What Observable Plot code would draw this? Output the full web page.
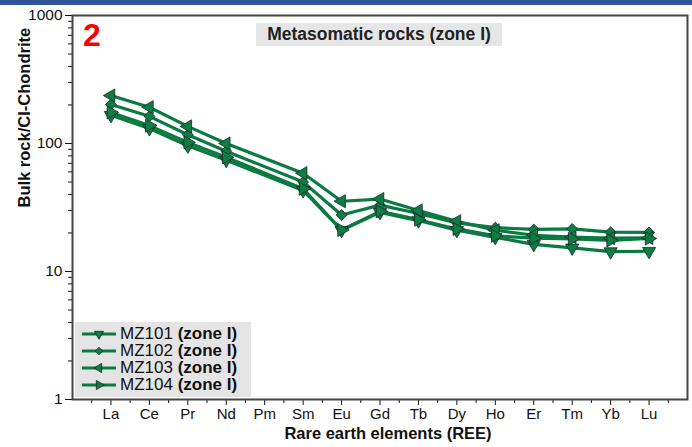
<!DOCTYPE html>
<html>
<head>
<meta charset="utf-8">
<script src="https://cdn.jsdelivr.net/npm/d3@7"></script>
<script src="https://cdn.jsdelivr.net/npm/@observablehq/plot@0.6"></script>
<style>
  html, body { margin: 0; padding: 0; background: #ffffff; }
  #wrap { position: relative; width: 692px; height: 447px; overflow: hidden; font-family: "Liberation Sans", Arial, sans-serif; background: #fff; }
  #topbar { position: absolute; left: 0; top: 0; width: 692px; height: 5px; background: #2f5597; }
  #panel { position: absolute; left: 83px; top: 19px; color: #ff0000; font-weight: bold; font-size: 32px; line-height: 1; }
  #title { position: absolute; left: 256px; top: 23px; width: 246px; height: 23px; background: #e6e6e6; font-weight: bold; font-size: 17.5px; line-height: 23px; text-align: center; color: #222; }
  #legend { position: absolute; left: 75px; top: 322px; width: 176px; height: 75px; background: #e4e4e4; }
  .item { position: absolute; left: 5px; height: 17px; display: flex; align-items: center; font-size: 17px; color: #111; white-space: pre; }
  .item svg { margin-right: 2px; }
  .item b { font-weight: bold; }
</style>
</head>
<body>
<div id="wrap">
  <div id="chart"></div>
  <div id="topbar"></div>
  <div id="panel">2</div>
  <div id="title">Metasomatic rocks (zone I)</div>
  <div id="legend"></div>
</div>
<script>
// Rare earth elements in chondrite-normalised order (Pm has no analysis)
const elements = ["La", "Ce", "Pr", "Nd", "Pm", "Sm", "Eu", "Gd", "Tb", "Dy", "Ho", "Er", "Tm", "Yb", "Lu"];
const samples = ["MZ101", "MZ102", "MZ103", "MZ104"];
const zone = "(zone I)";

// Bulk rock / CI-chondrite ratios per sample
const mz101 = [166, 131, 96, 74, null, 43, 21, 29, 25, 21, 18.5, 16.3, 15.3, 14.3, 14.4];
const mz102 = [202, 163, 117, 87, null, 50, 27.6, 33, 28.4, 24, 22, 21.3, 21.5, 20.3, 20.2];
const mz103 = [237, 192, 136, 100, null, 58.6, 35.4, 36.8, 30, 24.7, 21, 19.2, 18.6, 18.2, 18.3];
const mz104 = [175, 138, 102, 78, null, 44.3, 21.1, 29.5, 25.4, 21.5, 19, 18.2, 18, 17.5, 18.1];

const yMajor = [1, 10, 100, 1000];
const yMinor = [1, 10, 100].flatMap(d => [2, 3, 4, 5, 6, 7, 8, 9].map(k => k * d));

const series = [mz101, mz102, mz103, mz104];
const rows = samples.flatMap((s, j) =>
  series[j].map((v, i) => ({sample: s, el: elements[i], i, v})).filter(d => d.v != null)
);

// Triangle marker rotated to point down / left / right
function triangle(angle) {
  return {
    draw(ctx, size) {
      const y = -Math.sqrt(size / (Math.sqrt(3) * 3));
      const pts = [[0, y * 2], [-Math.sqrt(3) * y, -y], [Math.sqrt(3) * y, -y]];
      const c = Math.cos(angle), s = Math.sin(angle);
      pts.forEach(([px, py], k) => {
        const X = px * c - py * s, Y = px * s + py * c;
        if (k) ctx.lineTo(X, Y); else ctx.moveTo(X, Y);
      });
      ctx.closePath();
    }
  };
}
const symbols = [triangle(Math.PI), d3.symbolDiamond2, triangle(-Math.PI / 2), triangle(Math.PI / 2)];

const green = "#0b7a42";
const markFill = "#0e7c45";
const markStroke = "#1b2b22";

const chart = Plot.plot({
  width: 692,
  height: 447,
  marginTop: 15,
  marginRight: 5,
  marginBottom: 48,
  marginLeft: 72,
  style: {fontFamily: "Liberation Sans, Arial, sans-serif", color: "#111", background: "transparent"},
  x: {domain: [-1, 15], label: null},
  y: {type: "log", domain: [1, 1000], label: null},
  symbol: {domain: samples, range: symbols},
  marks: [
    Plot.axisX({ticks: d3.range(elements.length), tickFormat: i => elements[i], tickSize: 6, tickPadding: 3, fontSize: 15, stroke: "#111"}),
    Plot.axisX({ticks: d3.range(-0.5, 15, 1), tickFormat: () => "", tickSize: 4, stroke: "#111"}),
    Plot.axisY({ticks: yMajor, tickFormat: d => String(d), tickSize: 7, tickPadding: 3, fontSize: 15.5, stroke: "#111"}),
    Plot.axisY({ticks: yMinor, tickFormat: () => "", tickSize: 4, stroke: "#111"}),
    Plot.frame({stroke: "#444", strokeWidth: 2}),
    Plot.line(rows, {x: "i", y: "v", z: "sample", stroke: green, strokeWidth: 3.2}),
    Plot.dot(rows, {x: "i", y: "v", symbol: "sample", r: 4.9, fill: markFill, stroke: markStroke, strokeWidth: 0.8}),
    Plot.text(["Bulk rock/CI-Chondrite"], {frameAnchor: "left", dx: -48, rotate: -90, fontWeight: "bold", fontSize: 16.5, fill: "#111"}),
    Plot.text(["Rare earth elements (REE)"], {frameAnchor: "bottom", dx: 8, dy: 39, fontWeight: "bold", fontSize: 16.5, fill: "#111"})
  ]
});
document.getElementById("chart").appendChild(chart);

// Legend: line sample with the series marker, then the sample name
const legend = d3.select("#legend");
samples.forEach((s, j) => {
  const item = legend.append("div").attr("class", "item").style("top", (3 + j * 17.2) + "px");
  const svg = item.append("svg").attr("width", 38).attr("height", 14);
  svg.append("line").attr("x1", 2).attr("x2", 36).attr("y1", 7).attr("y2", 7)
    .attr("stroke", green).attr("stroke-width", 3);
  svg.append("path").attr("transform", "translate(19,7)")
    .attr("d", d3.symbol(symbols[j], Math.PI * 3.4 * 3.4)())
    .attr("fill", markFill).attr("stroke", markStroke).attr("stroke-width", 0.8);
  item.append("span").text(s + " ");
  item.append("b").text(zone);
});
</script>
</body>
</html>
